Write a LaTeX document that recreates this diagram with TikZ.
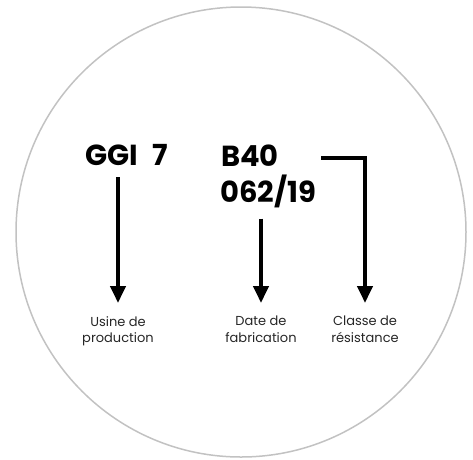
\documentclass[tikz,border=0pt]{standalone}
\usepackage{fontspec}
\setmainfont{Poppins}
\usepackage{tikz}
\usetikzlibrary{arrows.meta,positioning}

\begin{document}
\begin{tikzpicture}[x=1pt,y=-1pt,
  code/.style={inner sep=0pt, anchor=base west, font=\fontsize{29}{32}\selectfont\bfseries},
  lbl/.style={inner sep=0pt, align=center, text=black!85, font=\fontsize{13}{16.5}\selectfont},
  arr/.style={line width=4pt, -{Triangle[width=15pt,length=17pt]}, shorten >=13pt}]
  \useasboundingbox (0,0) rectangle (473,459);
  \draw[black!24, line width=1.5pt] (241,232) circle [radius=225];
  \node[code] (usine) at (85,165) {GGI\hspace{15pt}7};
  \node[code] (classe) at (221,166) {B40};
  \node[code] (date) at (220,202) {062/19};
  \node[lbl, anchor=north] (lblU) at (118,316) {Usine de\\production};
  \node[lbl, anchor=north] (lblD) at (261,316) {Date de\\fabrication};
  \node[lbl, anchor=north] (lblC) at (365,316) {Classe de\\résistance};
  \path[arr]
    ([yshift=-12pt]usine.south -| lblU.north) edge (lblU.north)
    ([yshift=-11pt]date.south -| lblD.north) edge (lblD.north)
  ;
  \draw[arr, line join=miter] ([xshift=42pt,yshift=-3pt]classe.east) -| (lblC.north);
\end{tikzpicture}
\end{document}
